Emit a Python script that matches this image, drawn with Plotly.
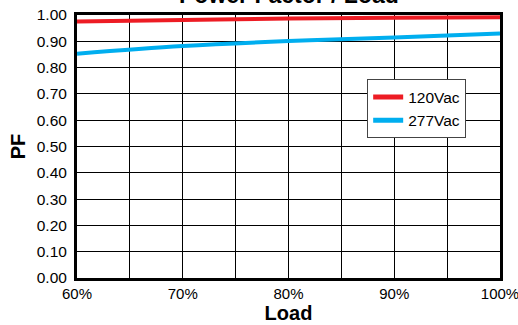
import plotly.graph_objects as go

load_pct = [60, 70, 80, 90, 100]
pf_120vac = [0.975, 0.981, 0.987, 0.990, 0.991]
pf_277vac = [0.853, 0.882, 0.901, 0.914, 0.930]
x_ticks = [60, 70, 80, 90, 100]
x_tick_labels = ["60%", "70%", "80%", "90%", "100%"]

FONT = "Liberation Sans, Arial, sans-serif"

fig = go.Figure()
fig.add_trace(go.Scatter(x=load_pct, y=pf_120vac, mode="lines", name="120Vac",
                         line=dict(color="#ED1C24", width=4, shape="spline")))
fig.add_trace(go.Scatter(x=load_pct, y=pf_277vac, mode="lines", name="277Vac",
                         line=dict(color="#00AEEF", width=4, shape="spline")))

fig.update_layout(
    width=518, height=325,
    margin=dict(l=77, r=18, t=15, b=47),
    paper_bgcolor="white", plot_bgcolor="white",
    font=dict(family=FONT, size=15, color="black"),
    showlegend=True,
    legend=dict(x=0.686, y=0.755, xanchor="left", yanchor="top",
                bgcolor="white", bordercolor="#444", borderwidth=1,
                font=dict(size=15.5), itemwidth=30, tracegroupgap=0,
                itemsizing="constant"),
    xaxis=dict(range=[60, 100], tickvals=x_ticks, ticktext=x_tick_labels,
               automargin=False, tickfont=dict(size=15), ticklabeloverflow="allow",
               showgrid=True, gridcolor="black", gridwidth=1,
               minor=dict(dtick=5, showgrid=True, gridcolor="black", gridwidth=1),
               showline=True, linecolor="black", linewidth=3, mirror=True,
               ticks="", zeroline=False,
               title=dict(text="<b>Load</b>", font=dict(size=20), standoff=1)),
    yaxis=dict(range=[0, 1], dtick=0.1, tickformat=".2f",
               automargin=False, tickfont=dict(size=15.5), ticklabelstandoff=4,
               showgrid=True, gridcolor="black", gridwidth=1,
               showline=True, linecolor="black", linewidth=3, mirror=True,
               ticks="", zeroline=False,
               title=dict(text="<b>PF</b>", font=dict(size=20), standoff=6)),
    annotations=[dict(text="<b>Power Factor / Load</b>", xref="paper", yref="paper",
                      x=0.5, y=1, xanchor="center", yanchor="middle", yshift=20,
                      showarrow=False, font=dict(size=23))],
)

fig.write_html("out.html", config={"displayModeBar": False},
               post_script="document.body.style.margin='0';document.body.style.padding='0';")
